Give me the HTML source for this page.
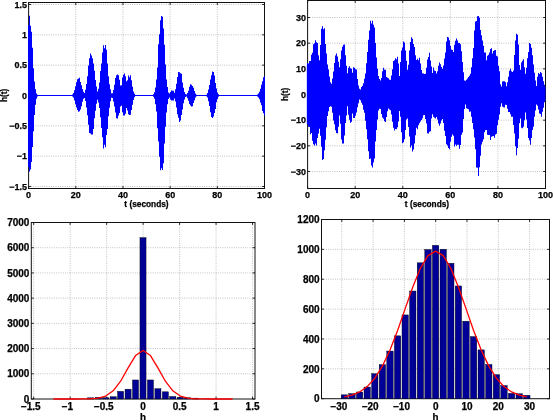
<!DOCTYPE html>
<html><head><meta charset="utf-8"><title>figure</title>
<style>html,body{margin:0;padding:0;background:#fff;overflow:hidden}svg{display:block;filter:blur(0.3px)}</style>
</head><body>
<svg width="553" height="420" viewBox="0 0 553 420" font-family='"Liberation Sans", Arial, Helvetica, sans-serif' font-weight="bold" font-size="10">
<style>text{stroke:#000;stroke-width:0.25px}</style>
<rect width="553" height="420" fill="#fff"/>
<path d="M75.78 2.5V188.5M122.96 2.5V188.5M170.14 2.5V188.5M217.32 2.5V188.5M28.6 186.5H264.5M28.6 156.17H264.5M28.6 125.83H264.5M28.6 95.5H264.5M28.6 65.17H264.5M28.6 34.83H264.5M28.6 4.5H264.5" stroke="#b4b4b4" stroke-width="0.9" stroke-dasharray="0.9 1.35" fill="none"/>
<path d="M28.6 188.5v-2.4M28.6 2.5v2.4M75.78 188.5v-2.4M75.78 2.5v2.4M122.96 188.5v-2.4M122.96 2.5v2.4M170.14 188.5v-2.4M170.14 2.5v2.4M217.32 188.5v-2.4M217.32 2.5v2.4M264.5 188.5v-2.4M264.5 2.5v2.4M28.6 186.5h2.4M264.5 186.5h-2.4M28.6 156.17h2.4M264.5 156.17h-2.4M28.6 125.83h2.4M264.5 125.83h-2.4M28.6 95.5h2.4M264.5 95.5h-2.4M28.6 65.17h2.4M264.5 65.17h-2.4M28.6 34.83h2.4M264.5 34.83h-2.4M28.6 4.5h2.4M264.5 4.5h-2.4" stroke="#111" stroke-width="0.9" fill="none"/>
<rect x="28.6" y="2.5" width="235.9" height="186" fill="none" stroke="#111" stroke-width="1"/>
<clipPath id="c1"><rect x="28.0" y="2.5" width="237.0" height="186.0"/></clipPath>
<path clip-path="url(#c1)" d="M28.00 24.90 L29.00 24.90 L29.00 15.85 L30.00 15.85 L30.00 25.77 L31.00 25.77 L31.00 31.75 L32.00 31.75 L32.00 47.70 L33.00 47.70 L33.00 68.20 L34.00 68.20 L34.00 81.54 L35.00 81.54 L35.00 89.23 L36.00 89.23 L36.00 93.41 L37.00 93.41 L37.00 94.82 L38.00 94.82 L38.00 94.90 L39.00 94.90 L39.00 94.90 L40.00 94.90 L40.00 94.90 L41.00 94.90 L41.00 94.90 L42.00 94.90 L42.00 94.90 L43.00 94.90 L43.00 94.90 L44.00 94.90 L44.00 94.90 L45.00 94.90 L45.00 94.90 L46.00 94.90 L46.00 94.90 L47.00 94.90 L47.00 94.90 L48.00 94.90 L48.00 94.90 L49.00 94.90 L49.00 94.90 L50.00 94.90 L50.00 94.90 L51.00 94.90 L51.00 94.90 L52.00 94.90 L52.00 94.90 L53.00 94.90 L53.00 94.90 L54.00 94.90 L54.00 94.90 L55.00 94.90 L55.00 94.90 L56.00 94.90 L56.00 94.90 L57.00 94.90 L57.00 94.90 L58.00 94.90 L58.00 94.90 L59.00 94.90 L59.00 94.90 L60.00 94.90 L60.00 94.90 L61.00 94.90 L61.00 94.90 L62.00 94.90 L62.00 94.90 L63.00 94.90 L63.00 94.90 L64.00 94.90 L64.00 94.90 L65.00 94.90 L65.00 94.90 L66.00 94.90 L66.00 94.90 L67.00 94.90 L67.00 94.90 L68.00 94.90 L68.00 94.90 L69.00 94.90 L69.00 94.90 L70.00 94.90 L70.00 94.90 L71.00 94.90 L71.00 94.90 L72.00 94.90 L72.00 94.45 L73.00 94.45 L73.00 92.93 L74.00 92.93 L74.00 90.24 L75.00 90.24 L75.00 86.22 L76.00 86.22 L76.00 82.16 L77.00 82.16 L77.00 79.23 L78.00 79.23 L78.00 78.57 L79.00 78.57 L79.00 77.87 L80.00 77.87 L80.00 82.00 L81.00 82.00 L81.00 85.29 L82.00 85.29 L82.00 89.02 L83.00 89.02 L83.00 91.85 L84.00 91.85 L84.00 92.93 L85.00 92.93 L85.00 89.67 L86.00 89.67 L86.00 84.12 L87.00 84.12 L87.00 76.29 L88.00 76.29 L88.00 65.50 L89.00 65.50 L89.00 58.31 L90.00 58.31 L90.00 53.49 L91.00 53.49 L91.00 55.50 L92.00 55.50 L92.00 58.24 L93.00 58.24 L93.00 63.59 L94.00 63.59 L94.00 70.83 L95.00 70.83 L95.00 79.96 L96.00 79.96 L96.00 86.38 L97.00 86.38 L97.00 91.42 L98.00 91.42 L98.00 88.79 L99.00 88.79 L99.00 82.51 L100.00 82.51 L100.00 71.05 L101.00 71.05 L101.00 63.55 L102.00 63.55 L102.00 52.62 L103.00 52.62 L103.00 45.35 L104.00 45.35 L104.00 48.27 L105.00 48.27 L105.00 44.95 L106.00 44.95 L106.00 49.69 L107.00 49.69 L107.00 63.60 L108.00 63.60 L108.00 76.32 L109.00 76.32 L109.00 84.33 L110.00 84.33 L110.00 89.21 L111.00 89.21 L111.00 93.17 L112.00 93.17 L112.00 93.18 L113.00 93.18 L113.00 90.05 L114.00 90.05 L114.00 84.68 L115.00 84.68 L115.00 78.01 L116.00 78.01 L116.00 75.20 L117.00 75.20 L117.00 74.42 L118.00 74.42 L118.00 75.17 L119.00 75.17 L119.00 79.85 L120.00 79.85 L120.00 85.58 L121.00 85.58 L121.00 85.17 L122.00 85.17 L122.00 77.49 L123.00 77.49 L123.00 74.75 L124.00 74.75 L124.00 73.57 L125.00 73.57 L125.00 76.30 L126.00 76.30 L126.00 81.35 L127.00 81.35 L127.00 80.23 L128.00 80.23 L128.00 75.52 L129.00 75.52 L129.00 77.37 L130.00 77.37 L130.00 75.29 L131.00 75.29 L131.00 80.29 L132.00 80.29 L132.00 86.71 L133.00 86.71 L133.00 91.54 L134.00 91.54 L134.00 93.84 L135.00 93.84 L135.00 94.90 L136.00 94.90 L136.00 94.90 L137.00 94.90 L137.00 94.90 L138.00 94.90 L138.00 94.90 L139.00 94.90 L139.00 94.90 L140.00 94.90 L140.00 94.90 L141.00 94.90 L141.00 94.90 L142.00 94.90 L142.00 94.90 L143.00 94.90 L143.00 94.90 L144.00 94.90 L144.00 94.90 L145.00 94.90 L145.00 94.90 L146.00 94.90 L146.00 94.90 L147.00 94.90 L147.00 94.90 L148.00 94.90 L148.00 94.90 L149.00 94.90 L149.00 94.90 L150.00 94.90 L150.00 94.90 L151.00 94.90 L151.00 94.90 L152.00 94.90 L152.00 94.90 L153.00 94.90 L153.00 94.28 L154.00 94.28 L154.00 92.18 L155.00 92.18 L155.00 87.54 L156.00 87.54 L156.00 79.53 L157.00 79.53 L157.00 67.52 L158.00 67.52 L158.00 44.17 L159.00 44.17 L159.00 34.18 L160.00 34.18 L160.00 20.29 L161.00 20.29 L161.00 16.11 L162.00 16.11 L162.00 16.86 L163.00 16.86 L163.00 28.42 L164.00 28.42 L164.00 44.79 L165.00 44.79 L165.00 64.49 L166.00 64.49 L166.00 79.52 L167.00 79.52 L167.00 86.88 L168.00 86.88 L168.00 92.45 L169.00 92.45 L169.00 93.44 L170.00 93.44 L170.00 92.02 L171.00 92.02 L171.00 90.40 L172.00 90.40 L172.00 90.79 L173.00 90.79 L173.00 90.81 L174.00 90.81 L174.00 92.65 L175.00 92.65 L175.00 89.18 L176.00 89.18 L176.00 83.67 L177.00 83.67 L177.00 76.93 L178.00 76.93 L178.00 72.05 L179.00 72.05 L179.00 72.30 L180.00 72.30 L180.00 73.23 L181.00 73.23 L181.00 73.64 L182.00 73.64 L182.00 82.39 L183.00 82.39 L183.00 87.78 L184.00 87.78 L184.00 91.92 L185.00 91.92 L185.00 94.10 L186.00 94.10 L186.00 94.50 L187.00 94.50 L187.00 93.01 L188.00 93.01 L188.00 90.66 L189.00 90.66 L189.00 86.76 L190.00 86.76 L190.00 84.32 L191.00 84.32 L191.00 84.84 L192.00 84.84 L192.00 85.94 L193.00 85.94 L193.00 87.73 L194.00 87.73 L194.00 91.06 L195.00 91.06 L195.00 93.51 L196.00 93.51 L196.00 94.70 L197.00 94.70 L197.00 94.90 L198.00 94.90 L198.00 94.90 L199.00 94.90 L199.00 94.90 L200.00 94.90 L200.00 94.90 L201.00 94.90 L201.00 94.90 L202.00 94.90 L202.00 94.90 L203.00 94.90 L203.00 94.90 L204.00 94.90 L204.00 94.90 L205.00 94.90 L205.00 94.90 L206.00 94.90 L206.00 94.68 L207.00 94.68 L207.00 93.11 L208.00 93.11 L208.00 89.62 L209.00 89.62 L209.00 85.07 L210.00 85.07 L210.00 79.47 L211.00 79.47 L211.00 75.19 L212.00 75.19 L212.00 71.53 L213.00 71.53 L213.00 72.03 L214.00 72.03 L214.00 75.43 L215.00 75.43 L215.00 83.12 L216.00 83.12 L216.00 88.45 L217.00 88.45 L217.00 92.40 L218.00 92.40 L218.00 94.21 L219.00 94.21 L219.00 94.90 L220.00 94.90 L220.00 94.90 L221.00 94.90 L221.00 94.90 L222.00 94.90 L222.00 94.90 L223.00 94.90 L223.00 94.90 L224.00 94.90 L224.00 94.90 L225.00 94.90 L225.00 94.90 L226.00 94.90 L226.00 94.90 L227.00 94.90 L227.00 94.90 L228.00 94.90 L228.00 94.90 L229.00 94.90 L229.00 94.90 L230.00 94.90 L230.00 94.90 L231.00 94.90 L231.00 94.90 L232.00 94.90 L232.00 94.90 L233.00 94.90 L233.00 94.90 L234.00 94.90 L234.00 94.90 L235.00 94.90 L235.00 94.90 L236.00 94.90 L236.00 94.90 L237.00 94.90 L237.00 94.90 L238.00 94.90 L238.00 94.90 L239.00 94.90 L239.00 94.90 L240.00 94.90 L240.00 94.90 L241.00 94.90 L241.00 94.90 L242.00 94.90 L242.00 94.90 L243.00 94.90 L243.00 94.90 L244.00 94.90 L244.00 94.90 L245.00 94.90 L245.00 94.90 L246.00 94.90 L246.00 94.90 L247.00 94.90 L247.00 94.90 L248.00 94.90 L248.00 94.90 L249.00 94.90 L249.00 94.90 L250.00 94.90 L250.00 94.90 L251.00 94.90 L251.00 94.90 L252.00 94.90 L252.00 94.90 L253.00 94.90 L253.00 94.90 L254.00 94.90 L254.00 94.90 L255.00 94.90 L255.00 94.90 L256.00 94.90 L256.00 94.90 L257.00 94.90 L257.00 94.53 L258.00 94.53 L258.00 93.59 L259.00 93.59 L259.00 91.86 L260.00 91.86 L260.00 88.64 L261.00 88.64 L261.00 84.65 L262.00 84.65 L262.00 81.14 L263.00 81.14 L263.00 77.33 L264.00 77.33 L264.00 76.40 L265.00 76.40 L265.00 115.50 L264.00 115.50 L264.00 113.19 L263.00 113.19 L263.00 110.94 L262.00 110.94 L262.00 105.37 L261.00 105.37 L261.00 102.60 L260.00 102.60 L260.00 99.19 L259.00 99.19 L259.00 97.62 L258.00 97.62 L258.00 96.47 L257.00 96.47 L257.00 96.10 L256.00 96.10 L256.00 96.10 L255.00 96.10 L255.00 96.10 L254.00 96.10 L254.00 96.10 L253.00 96.10 L253.00 96.10 L252.00 96.10 L252.00 96.10 L251.00 96.10 L251.00 96.10 L250.00 96.10 L250.00 96.10 L249.00 96.10 L249.00 96.10 L248.00 96.10 L248.00 96.10 L247.00 96.10 L247.00 96.10 L246.00 96.10 L246.00 96.10 L245.00 96.10 L245.00 96.10 L244.00 96.10 L244.00 96.10 L243.00 96.10 L243.00 96.10 L242.00 96.10 L242.00 96.10 L241.00 96.10 L241.00 96.10 L240.00 96.10 L240.00 96.10 L239.00 96.10 L239.00 96.10 L238.00 96.10 L238.00 96.10 L237.00 96.10 L237.00 96.10 L236.00 96.10 L236.00 96.10 L235.00 96.10 L235.00 96.10 L234.00 96.10 L234.00 96.10 L233.00 96.10 L233.00 96.10 L232.00 96.10 L232.00 96.10 L231.00 96.10 L231.00 96.10 L230.00 96.10 L230.00 96.10 L229.00 96.10 L229.00 96.10 L228.00 96.10 L228.00 96.10 L227.00 96.10 L227.00 96.10 L226.00 96.10 L226.00 96.10 L225.00 96.10 L225.00 96.10 L224.00 96.10 L224.00 96.10 L223.00 96.10 L223.00 96.10 L222.00 96.10 L222.00 96.10 L221.00 96.10 L221.00 96.10 L220.00 96.10 L220.00 96.10 L219.00 96.10 L219.00 96.78 L218.00 96.78 L218.00 98.97 L217.00 98.97 L217.00 102.30 L216.00 102.30 L216.00 108.93 L215.00 108.93 L215.00 113.11 L214.00 113.11 L214.00 116.48 L213.00 116.48 L213.00 117.89 L212.00 117.89 L212.00 116.89 L211.00 116.89 L211.00 112.34 L210.00 112.34 L210.00 105.98 L209.00 105.98 L209.00 101.35 L208.00 101.35 L208.00 97.62 L207.00 97.62 L207.00 96.31 L206.00 96.31 L206.00 96.10 L205.00 96.10 L205.00 96.10 L204.00 96.10 L204.00 96.10 L203.00 96.10 L203.00 96.10 L202.00 96.10 L202.00 96.10 L201.00 96.10 L201.00 96.10 L200.00 96.10 L200.00 96.10 L199.00 96.10 L199.00 96.10 L198.00 96.10 L198.00 96.10 L197.00 96.10 L197.00 96.30 L196.00 96.30 L196.00 97.54 L195.00 97.54 L195.00 100.23 L194.00 100.23 L194.00 102.98 L193.00 102.98 L193.00 106.35 L192.00 106.35 L192.00 106.44 L191.00 106.44 L191.00 105.43 L190.00 105.43 L190.00 104.10 L189.00 104.10 L189.00 100.69 L188.00 100.69 L188.00 98.13 L187.00 98.13 L187.00 96.50 L186.00 96.50 L186.00 96.89 L185.00 96.89 L185.00 99.38 L184.00 99.38 L184.00 103.37 L183.00 103.37 L183.00 109.38 L182.00 109.38 L182.00 115.06 L181.00 115.06 L181.00 120.43 L180.00 120.43 L180.00 121.88 L179.00 121.88 L179.00 117.63 L178.00 117.63 L178.00 114.30 L177.00 114.30 L177.00 107.51 L176.00 107.51 L176.00 101.42 L175.00 101.42 L175.00 98.60 L174.00 98.60 L174.00 100.41 L173.00 100.41 L173.00 100.59 L172.00 100.59 L172.00 100.53 L171.00 100.53 L171.00 99.61 L170.00 99.61 L170.00 97.61 L169.00 97.61 L169.00 98.94 L168.00 98.94 L168.00 104.20 L167.00 104.20 L167.00 112.57 L166.00 112.57 L166.00 126.66 L165.00 126.66 L165.00 143.56 L164.00 143.56 L164.00 163.37 L163.00 163.37 L163.00 169.97 L162.00 169.97 L162.00 168.13 L161.00 168.13 L161.00 170.24 L160.00 170.24 L160.00 156.87 L159.00 156.87 L159.00 141.46 L158.00 141.46 L158.00 128.15 L157.00 128.15 L157.00 111.57 L156.00 111.57 L156.00 104.22 L155.00 104.22 L155.00 98.76 L154.00 98.76 L154.00 96.74 L153.00 96.74 L153.00 96.10 L152.00 96.10 L152.00 96.10 L151.00 96.10 L151.00 96.10 L150.00 96.10 L150.00 96.10 L149.00 96.10 L149.00 96.10 L148.00 96.10 L148.00 96.10 L147.00 96.10 L147.00 96.10 L146.00 96.10 L146.00 96.10 L145.00 96.10 L145.00 96.10 L144.00 96.10 L144.00 96.10 L143.00 96.10 L143.00 96.10 L142.00 96.10 L142.00 96.10 L141.00 96.10 L141.00 96.10 L140.00 96.10 L140.00 96.10 L139.00 96.10 L139.00 96.10 L138.00 96.10 L138.00 96.10 L137.00 96.10 L137.00 96.10 L136.00 96.10 L136.00 96.10 L135.00 96.10 L135.00 97.17 L134.00 97.17 L134.00 99.97 L133.00 99.97 L133.00 104.75 L132.00 104.75 L132.00 109.94 L131.00 109.94 L131.00 114.83 L130.00 114.83 L130.00 115.11 L129.00 115.11 L129.00 114.33 L128.00 114.33 L128.00 110.49 L127.00 110.49 L127.00 108.12 L126.00 108.12 L126.00 113.68 L125.00 113.68 L125.00 115.58 L124.00 115.58 L124.00 115.42 L123.00 115.42 L123.00 112.28 L122.00 112.28 L122.00 105.86 L121.00 105.86 L121.00 106.55 L120.00 106.55 L120.00 113.04 L119.00 113.04 L119.00 115.50 L118.00 115.50 L118.00 118.60 L117.00 118.60 L117.00 118.14 L116.00 118.14 L116.00 112.62 L115.00 112.62 L115.00 106.54 L114.00 106.54 L114.00 101.62 L113.00 101.62 L113.00 98.10 L112.00 98.10 L112.00 97.83 L111.00 97.83 L111.00 101.35 L110.00 101.35 L110.00 107.72 L109.00 107.72 L109.00 116.32 L108.00 116.32 L108.00 128.89 L107.00 128.89 L107.00 134.89 L106.00 134.89 L106.00 147.33 L105.00 147.33 L105.00 144.68 L104.00 144.68 L104.00 148.47 L103.00 148.47 L103.00 137.14 L102.00 137.14 L102.00 127.89 L101.00 127.89 L101.00 117.13 L100.00 117.13 L100.00 108.06 L99.00 108.06 L99.00 102.44 L98.00 102.44 L98.00 99.81 L97.00 99.81 L97.00 103.67 L96.00 103.67 L96.00 110.83 L95.00 110.83 L95.00 118.13 L94.00 118.13 L94.00 128.90 L93.00 128.90 L93.00 134.58 L92.00 134.58 L92.00 134.38 L91.00 134.38 L91.00 133.56 L90.00 133.56 L90.00 132.92 L89.00 132.92 L89.00 124.87 L88.00 124.87 L88.00 115.19 L87.00 115.19 L87.00 107.52 L86.00 107.52 L86.00 100.92 L85.00 100.92 L85.00 98.06 L84.00 98.06 L84.00 98.70 L83.00 98.70 L83.00 101.68 L82.00 101.68 L82.00 106.16 L81.00 106.16 L81.00 109.58 L80.00 109.58 L80.00 111.31 L79.00 111.31 L79.00 111.82 L78.00 111.82 L78.00 110.08 L77.00 110.08 L77.00 107.49 L76.00 107.49 L76.00 104.15 L75.00 104.15 L75.00 100.58 L74.00 100.58 L74.00 97.83 L73.00 97.83 L73.00 96.51 L72.00 96.51 L72.00 96.10 L71.00 96.10 L71.00 96.10 L70.00 96.10 L70.00 96.10 L69.00 96.10 L69.00 96.10 L68.00 96.10 L68.00 96.10 L67.00 96.10 L67.00 96.10 L66.00 96.10 L66.00 96.10 L65.00 96.10 L65.00 96.10 L64.00 96.10 L64.00 96.10 L63.00 96.10 L63.00 96.10 L62.00 96.10 L62.00 96.10 L61.00 96.10 L61.00 96.10 L60.00 96.10 L60.00 96.10 L59.00 96.10 L59.00 96.10 L58.00 96.10 L58.00 96.10 L57.00 96.10 L57.00 96.10 L56.00 96.10 L56.00 96.10 L55.00 96.10 L55.00 96.10 L54.00 96.10 L54.00 96.10 L53.00 96.10 L53.00 96.10 L52.00 96.10 L52.00 96.10 L51.00 96.10 L51.00 96.10 L50.00 96.10 L50.00 96.10 L49.00 96.10 L49.00 96.10 L48.00 96.10 L48.00 96.10 L47.00 96.10 L47.00 96.10 L46.00 96.10 L46.00 96.10 L45.00 96.10 L45.00 96.10 L44.00 96.10 L44.00 96.10 L43.00 96.10 L43.00 96.10 L42.00 96.10 L42.00 96.10 L41.00 96.10 L41.00 96.10 L40.00 96.10 L40.00 96.10 L39.00 96.10 L39.00 96.10 L38.00 96.10 L38.00 96.49 L37.00 96.49 L37.00 98.69 L36.00 98.69 L36.00 104.63 L35.00 104.63 L35.00 114.90 L34.00 114.90 L34.00 131.29 L33.00 131.29 L33.00 147.08 L32.00 147.08 L32.00 161.99 L31.00 161.99 L31.00 169.55 L30.00 169.55 L30.00 171.41 L29.00 171.41 L29.00 167.10 L28.00 167.10Z" fill="#0000ff"/>
<g font-size="9">
<text x="28.6" y="198" text-anchor="middle">0</text>
<text x="75.78" y="198" text-anchor="middle">20</text>
<text x="122.96" y="198" text-anchor="middle">40</text>
<text x="170.14" y="198" text-anchor="middle">60</text>
<text x="217.32" y="198" text-anchor="middle">80</text>
<text x="264.5" y="198" text-anchor="middle">100</text>
<text x="27" y="189.7" text-anchor="end">&#8722;1.5</text>
<text x="27" y="159.37" text-anchor="end">&#8722;1</text>
<text x="27" y="129.03" text-anchor="end">&#8722;0.5</text>
<text x="27" y="98.7" text-anchor="end">0</text>
<text x="27" y="68.37" text-anchor="end">0.5</text>
<text x="27" y="38.03" text-anchor="end">1</text>
<text x="27" y="7.7" text-anchor="end">1.5</text>
</g>
<path d="M355.18 0.5V188.5M402.76 0.5V188.5M450.34 0.5V188.5M497.92 0.5V188.5M307.6 171.5H545.5M307.6 145.83H545.5M307.6 120.17H545.5M307.6 94.5H545.5M307.6 68.83H545.5M307.6 43.17H545.5M307.6 17.5H545.5" stroke="#b4b4b4" stroke-width="0.9" stroke-dasharray="0.9 1.35" fill="none"/>
<path d="M307.6 188.5v-2.4M307.6 0.5v2.4M355.18 188.5v-2.4M355.18 0.5v2.4M402.76 188.5v-2.4M402.76 0.5v2.4M450.34 188.5v-2.4M450.34 0.5v2.4M497.92 188.5v-2.4M497.92 0.5v2.4M545.5 188.5v-2.4M545.5 0.5v2.4M307.6 171.5h2.4M545.5 171.5h-2.4M307.6 145.83h2.4M545.5 145.83h-2.4M307.6 120.17h2.4M545.5 120.17h-2.4M307.6 94.5h2.4M545.5 94.5h-2.4M307.6 68.83h2.4M545.5 68.83h-2.4M307.6 43.17h2.4M545.5 43.17h-2.4M307.6 17.5h2.4M545.5 17.5h-2.4" stroke="#111" stroke-width="0.9" fill="none"/>
<rect x="307.6" y="0.5" width="237.9" height="188" fill="none" stroke="#111" stroke-width="1"/>
<clipPath id="c2"><rect x="306.6" y="0.5" width="238.89999999999998" height="188.0"/></clipPath>
<path clip-path="url(#c2)" d="M306.60 64.74 L307.00 64.74 L307.00 62.95 L308.00 62.95 L308.00 63.56 L309.00 63.56 L309.00 60.93 L310.00 60.93 L310.00 60.95 L311.00 60.95 L311.00 54.85 L312.00 54.85 L312.00 52.76 L313.00 52.76 L313.00 44.13 L314.00 44.13 L314.00 43.27 L315.00 43.27 L315.00 40.28 L316.00 40.28 L316.00 42.15 L317.00 42.15 L317.00 42.95 L318.00 42.95 L318.00 55.19 L319.00 55.19 L319.00 60.31 L320.00 60.31 L320.00 44.97 L321.00 44.97 L321.00 28.74 L322.00 28.74 L322.00 26.25 L323.00 26.25 L323.00 29.16 L324.00 29.16 L324.00 28.31 L325.00 28.31 L325.00 43.98 L326.00 43.98 L326.00 53.46 L327.00 53.46 L327.00 64.47 L328.00 64.47 L328.00 69.61 L329.00 69.61 L329.00 76.38 L330.00 76.38 L330.00 82.24 L331.00 82.24 L331.00 83.70 L332.00 83.70 L332.00 78.54 L333.00 78.54 L333.00 71.52 L334.00 71.52 L334.00 63.05 L335.00 63.05 L335.00 55.53 L336.00 55.53 L336.00 53.56 L337.00 53.56 L337.00 56.55 L338.00 56.55 L338.00 61.85 L339.00 61.85 L339.00 67.29 L340.00 67.29 L340.00 59.33 L341.00 59.33 L341.00 50.47 L342.00 50.47 L342.00 46.80 L343.00 46.80 L343.00 44.70 L344.00 44.70 L344.00 44.55 L345.00 44.55 L345.00 55.17 L346.00 55.17 L346.00 65.84 L347.00 65.84 L347.00 73.18 L348.00 73.18 L348.00 67.74 L349.00 67.74 L349.00 66.37 L350.00 66.37 L350.00 68.13 L351.00 68.13 L351.00 68.74 L352.00 68.74 L352.00 72.77 L353.00 72.77 L353.00 67.16 L354.00 67.16 L354.00 67.76 L355.00 67.76 L355.00 69.28 L356.00 69.28 L356.00 69.41 L357.00 69.41 L357.00 79.06 L358.00 79.06 L358.00 85.59 L359.00 85.59 L359.00 88.84 L360.00 88.84 L360.00 89.54 L361.00 89.54 L361.00 87.02 L362.00 87.02 L362.00 85.66 L363.00 85.66 L363.00 83.28 L364.00 83.28 L364.00 78.82 L365.00 78.82 L365.00 73.58 L366.00 73.58 L366.00 63.19 L367.00 63.19 L367.00 52.02 L368.00 52.02 L368.00 39.76 L369.00 39.76 L369.00 30.61 L370.00 30.61 L370.00 20.72 L371.00 20.72 L371.00 23.53 L372.00 23.53 L372.00 20.80 L373.00 20.80 L373.00 24.85 L374.00 24.85 L374.00 27.42 L375.00 27.42 L375.00 43.01 L376.00 43.01 L376.00 57.54 L377.00 57.54 L377.00 68.78 L378.00 68.78 L378.00 76.03 L379.00 76.03 L379.00 79.01 L380.00 79.01 L380.00 80.48 L381.00 80.48 L381.00 77.94 L382.00 77.94 L382.00 71.21 L383.00 71.21 L383.00 67.86 L384.00 67.86 L384.00 69.80 L385.00 69.80 L385.00 69.86 L386.00 69.86 L386.00 76.98 L387.00 76.98 L387.00 77.69 L388.00 77.69 L388.00 78.28 L389.00 78.28 L389.00 79.65 L390.00 79.65 L390.00 79.83 L391.00 79.83 L391.00 75.56 L392.00 75.56 L392.00 69.25 L393.00 69.25 L393.00 61.04 L394.00 61.04 L394.00 60.25 L395.00 60.25 L395.00 58.37 L396.00 58.37 L396.00 59.21 L397.00 59.21 L397.00 56.81 L398.00 56.81 L398.00 63.62 L399.00 63.62 L399.00 76.06 L400.00 76.06 L400.00 61.93 L401.00 61.93 L401.00 50.60 L402.00 50.60 L402.00 47.53 L403.00 47.53 L403.00 41.42 L404.00 41.42 L404.00 42.52 L405.00 42.52 L405.00 50.38 L406.00 50.38 L406.00 60.86 L407.00 60.86 L407.00 69.70 L408.00 69.70 L408.00 64.73 L409.00 64.73 L409.00 50.51 L410.00 50.51 L410.00 41.99 L411.00 41.99 L411.00 37.19 L412.00 37.19 L412.00 38.84 L413.00 38.84 L413.00 44.07 L414.00 44.07 L414.00 47.11 L415.00 47.11 L415.00 55.30 L416.00 55.30 L416.00 59.89 L417.00 59.89 L417.00 58.79 L418.00 58.79 L418.00 60.14 L419.00 60.14 L419.00 57.87 L420.00 57.87 L420.00 63.40 L421.00 63.40 L421.00 69.95 L422.00 69.95 L422.00 73.17 L423.00 73.17 L423.00 73.57 L424.00 73.57 L424.00 73.88 L425.00 73.88 L425.00 73.81 L426.00 73.81 L426.00 67.86 L427.00 67.86 L427.00 59.43 L428.00 59.43 L428.00 56.89 L429.00 56.89 L429.00 52.75 L430.00 52.75 L430.00 60.45 L431.00 60.45 L431.00 66.53 L432.00 66.53 L432.00 72.94 L433.00 72.94 L433.00 67.51 L434.00 67.51 L434.00 70.49 L435.00 70.49 L435.00 71.02 L436.00 71.02 L436.00 73.59 L437.00 73.59 L437.00 71.14 L438.00 71.14 L438.00 65.72 L439.00 65.72 L439.00 62.53 L440.00 62.53 L440.00 64.30 L441.00 64.30 L441.00 67.07 L442.00 67.07 L442.00 68.66 L443.00 68.66 L443.00 65.60 L444.00 65.60 L444.00 58.45 L445.00 58.45 L445.00 52.39 L446.00 52.39 L446.00 41.53 L447.00 41.53 L447.00 36.95 L448.00 36.95 L448.00 37.54 L449.00 37.54 L449.00 40.26 L450.00 40.26 L450.00 45.72 L451.00 45.72 L451.00 49.60 L452.00 49.60 L452.00 50.12 L453.00 50.12 L453.00 52.08 L454.00 52.08 L454.00 44.65 L455.00 44.65 L455.00 40.85 L456.00 40.85 L456.00 38.41 L457.00 38.41 L457.00 40.62 L458.00 40.62 L458.00 42.98 L459.00 42.98 L459.00 43.06 L460.00 43.06 L460.00 44.34 L461.00 44.34 L461.00 51.21 L462.00 51.21 L462.00 62.08 L463.00 62.08 L463.00 72.20 L464.00 72.20 L464.00 80.52 L465.00 80.52 L465.00 80.68 L466.00 80.68 L466.00 79.86 L467.00 79.86 L467.00 78.54 L468.00 78.54 L468.00 77.07 L469.00 77.07 L469.00 75.65 L470.00 75.65 L470.00 73.73 L471.00 73.73 L471.00 67.23 L472.00 67.23 L472.00 58.28 L473.00 58.28 L473.00 48.03 L474.00 48.03 L474.00 30.48 L475.00 30.48 L475.00 21.55 L476.00 21.55 L476.00 21.03 L477.00 21.03 L477.00 16.28 L478.00 16.28 L478.00 16.07 L479.00 16.07 L479.00 17.79 L480.00 17.79 L480.00 29.94 L481.00 29.94 L481.00 35.27 L482.00 35.27 L482.00 40.45 L483.00 40.45 L483.00 45.68 L484.00 45.68 L484.00 52.46 L485.00 52.46 L485.00 52.40 L486.00 52.40 L486.00 60.17 L487.00 60.17 L487.00 55.63 L488.00 55.63 L488.00 54.68 L489.00 54.68 L489.00 52.41 L490.00 52.41 L490.00 49.10 L491.00 49.10 L491.00 48.33 L492.00 48.33 L492.00 53.59 L493.00 53.59 L493.00 51.11 L494.00 51.11 L494.00 50.35 L495.00 50.35 L495.00 50.09 L496.00 50.09 L496.00 55.78 L497.00 55.78 L497.00 56.55 L498.00 56.55 L498.00 65.66 L499.00 65.66 L499.00 71.30 L500.00 71.30 L500.00 84.33 L501.00 84.33 L501.00 86.49 L502.00 86.49 L502.00 81.54 L503.00 81.54 L503.00 81.33 L504.00 81.33 L504.00 81.34 L505.00 81.34 L505.00 82.14 L506.00 82.14 L506.00 86.30 L507.00 86.30 L507.00 82.21 L508.00 82.21 L508.00 76.84 L509.00 76.84 L509.00 70.71 L510.00 70.71 L510.00 68.82 L511.00 68.82 L511.00 71.14 L512.00 71.14 L512.00 72.00 L513.00 72.00 L513.00 70.43 L514.00 70.43 L514.00 55.03 L515.00 55.03 L515.00 40.62 L516.00 40.62 L516.00 33.82 L517.00 33.82 L517.00 34.67 L518.00 34.67 L518.00 44.44 L519.00 44.44 L519.00 64.89 L520.00 64.89 L520.00 69.69 L521.00 69.69 L521.00 62.50 L522.00 62.50 L522.00 60.74 L523.00 60.74 L523.00 59.17 L524.00 59.17 L524.00 67.30 L525.00 67.30 L525.00 73.85 L526.00 73.85 L526.00 67.82 L527.00 67.82 L527.00 58.31 L528.00 58.31 L528.00 52.01 L529.00 52.01 L529.00 43.01 L530.00 43.01 L530.00 44.05 L531.00 44.05 L531.00 47.71 L532.00 47.71 L532.00 55.30 L533.00 55.30 L533.00 64.42 L534.00 64.42 L534.00 72.76 L535.00 72.76 L535.00 80.60 L536.00 80.60 L536.00 85.92 L537.00 85.92 L537.00 76.87 L538.00 76.87 L538.00 73.05 L539.00 73.05 L539.00 74.02 L540.00 74.02 L540.00 71.94 L541.00 71.94 L541.00 73.08 L542.00 73.08 L542.00 76.86 L543.00 76.86 L543.00 81.27 L544.00 81.27 L544.00 84.76 L545.00 84.76 L545.00 86.89 L546.00 86.89 L546.00 100.79 L545.00 100.79 L545.00 102.34 L544.00 102.34 L544.00 107.87 L543.00 107.87 L543.00 111.70 L542.00 111.70 L542.00 116.84 L541.00 116.84 L541.00 114.06 L540.00 114.06 L540.00 113.54 L539.00 113.54 L539.00 109.57 L538.00 109.57 L538.00 105.80 L537.00 105.80 L537.00 104.55 L536.00 104.55 L536.00 110.59 L535.00 110.59 L535.00 116.72 L534.00 116.72 L534.00 126.81 L533.00 126.81 L533.00 129.92 L532.00 129.92 L532.00 138.08 L531.00 138.08 L531.00 144.63 L530.00 144.63 L530.00 140.48 L529.00 140.48 L529.00 138.01 L528.00 138.01 L528.00 127.89 L527.00 127.89 L527.00 119.62 L526.00 119.62 L526.00 112.51 L525.00 112.51 L525.00 120.27 L524.00 120.27 L524.00 126.86 L523.00 126.86 L523.00 128.17 L522.00 128.17 L522.00 127.87 L521.00 127.87 L521.00 118.52 L520.00 118.52 L520.00 123.29 L519.00 123.29 L519.00 138.67 L518.00 138.67 L518.00 147.98 L517.00 147.98 L517.00 155.28 L516.00 155.28 L516.00 146.22 L515.00 146.22 L515.00 133.47 L514.00 133.47 L514.00 124.99 L513.00 124.99 L513.00 116.73 L512.00 116.73 L512.00 116.78 L511.00 116.78 L511.00 114.20 L510.00 114.20 L510.00 112.12 L509.00 112.12 L509.00 111.97 L508.00 111.97 L508.00 108.84 L507.00 108.84 L507.00 105.05 L506.00 105.05 L506.00 104.80 L505.00 104.80 L505.00 107.40 L504.00 107.40 L504.00 107.25 L503.00 107.25 L503.00 106.50 L502.00 106.50 L502.00 103.37 L501.00 103.37 L501.00 106.68 L500.00 106.68 L500.00 114.38 L499.00 114.38 L499.00 119.64 L498.00 119.64 L498.00 125.25 L497.00 125.25 L497.00 133.63 L496.00 133.63 L496.00 134.54 L495.00 134.54 L495.00 137.71 L494.00 137.71 L494.00 136.04 L493.00 136.04 L493.00 136.20 L492.00 136.20 L492.00 136.75 L491.00 136.75 L491.00 139.91 L490.00 139.91 L490.00 135.02 L489.00 135.02 L489.00 134.88 L488.00 134.88 L488.00 134.63 L487.00 134.63 L487.00 130.02 L486.00 130.02 L486.00 130.15 L485.00 130.15 L485.00 132.13 L484.00 132.13 L484.00 139.13 L483.00 139.13 L483.00 141.76 L482.00 141.76 L482.00 144.43 L481.00 144.43 L481.00 155.85 L480.00 155.85 L480.00 167.33 L479.00 167.33 L479.00 175.90 L478.00 175.90 L478.00 167.77 L477.00 167.77 L477.00 167.51 L476.00 167.51 L476.00 149.18 L475.00 149.18 L475.00 137.41 L474.00 137.41 L474.00 129.35 L473.00 129.35 L473.00 123.07 L472.00 123.07 L472.00 116.78 L471.00 116.78 L471.00 111.40 L470.00 111.40 L470.00 111.76 L469.00 111.76 L469.00 109.17 L468.00 109.17 L468.00 108.80 L467.00 108.80 L467.00 108.26 L466.00 108.26 L466.00 104.55 L465.00 104.55 L465.00 108.92 L464.00 108.92 L464.00 118.96 L463.00 118.96 L463.00 132.55 L462.00 132.55 L462.00 134.70 L461.00 134.70 L461.00 144.97 L460.00 144.97 L460.00 148.75 L459.00 148.75 L459.00 144.69 L458.00 144.69 L458.00 144.69 L457.00 144.69 L457.00 145.87 L456.00 145.87 L456.00 144.44 L455.00 144.44 L455.00 146.46 L454.00 146.46 L454.00 135.74 L453.00 135.74 L453.00 134.55 L452.00 134.55 L452.00 136.71 L451.00 136.71 L451.00 141.71 L450.00 141.71 L450.00 149.36 L449.00 149.36 L449.00 147.89 L448.00 147.89 L448.00 145.58 L447.00 145.58 L447.00 144.15 L446.00 144.15 L446.00 136.00 L445.00 136.00 L445.00 130.72 L444.00 130.72 L444.00 122.88 L443.00 122.88 L443.00 119.09 L442.00 119.09 L442.00 120.55 L441.00 120.55 L441.00 123.62 L440.00 123.62 L440.00 125.84 L439.00 125.84 L439.00 123.53 L438.00 123.53 L438.00 119.59 L437.00 119.59 L437.00 117.12 L436.00 117.12 L436.00 118.50 L435.00 118.50 L435.00 117.68 L434.00 117.68 L434.00 116.81 L433.00 116.81 L433.00 114.35 L432.00 114.35 L432.00 118.52 L431.00 118.52 L431.00 131.34 L430.00 131.34 L430.00 131.77 L429.00 131.77 L429.00 133.50 L428.00 133.50 L428.00 133.24 L427.00 133.24 L427.00 123.54 L426.00 123.54 L426.00 118.95 L425.00 118.95 L425.00 115.11 L424.00 115.11 L424.00 115.31 L423.00 115.31 L423.00 118.30 L422.00 118.30 L422.00 120.11 L421.00 120.11 L421.00 121.58 L420.00 121.58 L420.00 123.34 L419.00 123.34 L419.00 125.34 L418.00 125.34 L418.00 129.34 L417.00 129.34 L417.00 127.80 L416.00 127.80 L416.00 135.29 L415.00 135.29 L415.00 143.50 L414.00 143.50 L414.00 149.61 L413.00 149.61 L413.00 151.49 L412.00 151.49 L412.00 145.59 L411.00 145.59 L411.00 147.39 L410.00 147.39 L410.00 136.61 L409.00 136.61 L409.00 127.05 L408.00 127.05 L408.00 118.49 L407.00 118.49 L407.00 119.40 L406.00 119.40 L406.00 130.00 L405.00 130.00 L405.00 139.14 L404.00 139.14 L404.00 142.35 L403.00 142.35 L403.00 143.37 L402.00 143.37 L402.00 132.35 L401.00 132.35 L401.00 116.83 L400.00 116.83 L400.00 111.00 L399.00 111.00 L399.00 121.47 L398.00 121.47 L398.00 127.30 L397.00 127.30 L397.00 129.33 L396.00 129.33 L396.00 129.00 L395.00 129.00 L395.00 130.48 L394.00 130.48 L394.00 127.87 L393.00 127.87 L393.00 121.69 L392.00 121.69 L392.00 114.49 L391.00 114.49 L391.00 110.32 L390.00 110.32 L390.00 109.48 L389.00 109.48 L389.00 108.56 L388.00 108.56 L388.00 111.14 L387.00 111.14 L387.00 117.01 L386.00 117.01 L386.00 122.01 L385.00 122.01 L385.00 121.34 L384.00 121.34 L384.00 118.83 L383.00 118.83 L383.00 117.48 L382.00 117.48 L382.00 114.05 L381.00 114.05 L381.00 109.11 L380.00 109.11 L380.00 108.72 L379.00 108.72 L379.00 110.52 L378.00 110.52 L378.00 119.42 L377.00 119.42 L377.00 130.11 L376.00 130.11 L376.00 141.55 L375.00 141.55 L375.00 158.46 L374.00 158.46 L374.00 162.44 L373.00 162.44 L373.00 167.49 L372.00 167.49 L372.00 165.50 L371.00 165.50 L371.00 158.48 L370.00 158.48 L370.00 159.10 L369.00 159.10 L369.00 151.36 L368.00 151.36 L368.00 139.27 L367.00 139.27 L367.00 129.24 L366.00 129.24 L366.00 120.82 L365.00 120.82 L365.00 112.83 L364.00 112.83 L364.00 109.82 L363.00 109.82 L363.00 104.81 L362.00 104.81 L362.00 102.75 L361.00 102.75 L361.00 100.16 L360.00 100.16 L360.00 99.49 L359.00 99.49 L359.00 103.29 L358.00 103.29 L358.00 107.30 L357.00 107.30 L357.00 112.56 L356.00 112.56 L356.00 115.74 L355.00 115.74 L355.00 117.88 L354.00 117.88 L354.00 117.99 L353.00 117.99 L353.00 113.53 L352.00 113.53 L352.00 121.79 L351.00 121.79 L351.00 122.84 L350.00 122.84 L350.00 119.85 L349.00 119.85 L349.00 114.68 L348.00 114.68 L348.00 106.21 L347.00 106.21 L347.00 115.56 L346.00 115.56 L346.00 122.96 L345.00 122.96 L345.00 135.56 L344.00 135.56 L344.00 143.52 L343.00 143.52 L343.00 143.55 L342.00 143.55 L342.00 139.50 L341.00 139.50 L341.00 123.67 L340.00 123.67 L340.00 115.60 L339.00 115.60 L339.00 126.70 L338.00 126.70 L338.00 133.51 L337.00 133.51 L337.00 133.00 L336.00 133.00 L336.00 130.37 L335.00 130.37 L335.00 124.14 L334.00 124.14 L334.00 120.60 L333.00 120.60 L333.00 112.71 L332.00 112.71 L332.00 106.69 L331.00 106.69 L331.00 106.24 L330.00 106.24 L330.00 107.04 L329.00 107.04 L329.00 111.21 L328.00 111.21 L328.00 115.98 L327.00 115.98 L327.00 127.17 L326.00 127.17 L326.00 139.76 L325.00 139.76 L325.00 150.27 L324.00 150.27 L324.00 158.99 L323.00 158.99 L323.00 159.90 L322.00 159.90 L322.00 146.66 L321.00 146.66 L321.00 135.77 L320.00 135.77 L320.00 128.79 L319.00 128.79 L319.00 133.42 L318.00 133.42 L318.00 138.04 L317.00 138.04 L317.00 145.49 L316.00 145.49 L316.00 143.58 L315.00 143.58 L315.00 145.39 L314.00 145.39 L314.00 144.36 L313.00 144.36 L313.00 140.64 L312.00 140.64 L312.00 133.06 L311.00 133.06 L311.00 134.25 L310.00 134.25 L310.00 126.98 L309.00 126.98 L309.00 126.71 L308.00 126.71 L308.00 124.34 L307.00 124.34 L307.00 124.56 L306.60 124.56Z" fill="#0000ff"/>
<g font-size="9">
<text x="307.6" y="198" text-anchor="middle">0</text>
<text x="355.18" y="198" text-anchor="middle">20</text>
<text x="402.76" y="198" text-anchor="middle">40</text>
<text x="450.34" y="198" text-anchor="middle">60</text>
<text x="497.92" y="198" text-anchor="middle">80</text>
<text x="545.5" y="198" text-anchor="middle">100</text>
<text x="306" y="174.7" text-anchor="end">&#8722;30</text>
<text x="306" y="149.03" text-anchor="end">&#8722;20</text>
<text x="306" y="123.37" text-anchor="end">&#8722;10</text>
<text x="306" y="97.7" text-anchor="end">0</text>
<text x="306" y="72.03" text-anchor="end">10</text>
<text x="306" y="46.37" text-anchor="end">20</text>
<text x="306" y="20.7" text-anchor="end">30</text>
</g>
<path d="M33.7 222.5V399M70.18 222.5V399M106.65 222.5V399M143.12 222.5V399M179.6 222.5V399M216.07 222.5V399M252.55 222.5V399M31.3 373.79H255M31.3 348.57H255M31.3 323.36H255M31.3 298.14H255M31.3 272.93H255M31.3 247.71H255" stroke="#b4b4b4" stroke-width="0.9" stroke-dasharray="0.9 1.35" fill="none"/>
<path d="M33.7 399v-2.4M33.7 222.5v2.4M70.18 399v-2.4M70.18 222.5v2.4M106.65 399v-2.4M106.65 222.5v2.4M143.12 399v-2.4M143.12 222.5v2.4M179.6 399v-2.4M179.6 222.5v2.4M216.07 399v-2.4M216.07 222.5v2.4M252.55 399v-2.4M252.55 222.5v2.4M31.3 399h2.4M255 399h-2.4M31.3 373.79h2.4M255 373.79h-2.4M31.3 348.57h2.4M255 348.57h-2.4M31.3 323.36h2.4M255 323.36h-2.4M31.3 298.14h2.4M255 298.14h-2.4M31.3 272.93h2.4M255 272.93h-2.4M31.3 247.71h2.4M255 247.71h-2.4M31.3 222.5h2.4M255 222.5h-2.4" stroke="#111" stroke-width="0.9" fill="none"/>
<rect x="31.3" y="222.5" width="223.7" height="176.5" fill="none" stroke="#111" stroke-width="1"/>
<rect x="87.73" y="397.81" width="6.1" height="1.19" fill="#000096" stroke="#000" stroke-width="0.4"/>
<rect x="95.19" y="397.24" width="6.1" height="1.76" fill="#000096" stroke="#000" stroke-width="0.4"/>
<rect x="102.65" y="397.61" width="6.1" height="1.39" fill="#000096" stroke="#000" stroke-width="0.4"/>
<rect x="110.11" y="396.73" width="6.1" height="2.27" fill="#000096" stroke="#000" stroke-width="0.4"/>
<rect x="117.57" y="391.31" width="6.1" height="7.69" fill="#000096" stroke="#000" stroke-width="0.4"/>
<rect x="125.03" y="389.17" width="6.1" height="9.83" fill="#000096" stroke="#000" stroke-width="0.4"/>
<rect x="132.49" y="379.96" width="6.1" height="19.04" fill="#000096" stroke="#000" stroke-width="0.4"/>
<rect x="139.95" y="237.63" width="6.1" height="161.37" fill="#000096" stroke="#000" stroke-width="0.4"/>
<rect x="147.41" y="379.96" width="6.1" height="19.04" fill="#000096" stroke="#000" stroke-width="0.4"/>
<rect x="154.87" y="388.66" width="6.1" height="10.34" fill="#000096" stroke="#000" stroke-width="0.4"/>
<rect x="162.33" y="391.81" width="6.1" height="7.19" fill="#000096" stroke="#000" stroke-width="0.4"/>
<rect x="169.79" y="396.5" width="6.1" height="2.5" fill="#000096" stroke="#000" stroke-width="0.4"/>
<rect x="177.25" y="397.24" width="6.1" height="1.76" fill="#000096" stroke="#000" stroke-width="0.4"/>
<rect x="184.71" y="397.81" width="6.1" height="1.19" fill="#000096" stroke="#000" stroke-width="0.4"/>
<rect x="192.17" y="398.12" width="6.1" height="0.88" fill="#000096" stroke="#000" stroke-width="0.4"/>
<path d="M53.48 399.00 L60.94 399.00 L68.40 399.00 L75.86 398.99 L83.32 398.96 L90.78 398.79 L98.24 398.12 L105.70 396.01 L113.16 390.84 L120.62 381.20 L128.08 367.92 L135.54 355.58 L143.00 350.46 L150.46 355.58 L157.92 367.92 L165.38 381.20 L172.84 390.84 L180.30 396.01 L187.76 398.12 L195.22 398.79 L202.68 398.96 L210.14 398.99 L217.60 399.00 L225.06 399.00 L232.52 399.00" fill="none" stroke="#ff0000" stroke-width="1.3" stroke-linejoin="round"/>
<g font-size="10">
<text x="33.7" y="410.4" text-anchor="middle">1.5</text>
<text x="26.95" y="410.4" text-anchor="end">&#8722;</text>
<text x="70.18" y="410.4" text-anchor="middle">1</text>
<text x="67.6" y="410.4" text-anchor="end">&#8722;</text>
<text x="106.65" y="410.4" text-anchor="middle">0.5</text>
<text x="99.9" y="410.4" text-anchor="end">&#8722;</text>
<text x="143.12" y="410.4" text-anchor="middle">0</text>
<text x="179.6" y="410.4" text-anchor="middle">0.5</text>
<text x="216.07" y="410.4" text-anchor="middle">1</text>
<text x="252.55" y="410.4" text-anchor="middle">1.5</text>
<text x="29.4" y="402.7" text-anchor="end">0</text>
<text x="29.4" y="377.49" text-anchor="end">1000</text>
<text x="29.4" y="352.27" text-anchor="end">2000</text>
<text x="29.4" y="327.06" text-anchor="end">3000</text>
<text x="29.4" y="301.84" text-anchor="end">4000</text>
<text x="29.4" y="276.63" text-anchor="end">5000</text>
<text x="29.4" y="251.41" text-anchor="end">6000</text>
<text x="29.4" y="226.2" text-anchor="end">7000</text>
</g>
<path d="M341.8 219.5V398.7M373.1 219.5V398.7M404.4 219.5V398.7M435.7 219.5V398.7M467 219.5V398.7M498.3 219.5V398.7M529.6 219.5V398.7M321.5 368.83H549.5M321.5 338.97H549.5M321.5 309.1H549.5M321.5 279.23H549.5M321.5 249.37H549.5" stroke="#b4b4b4" stroke-width="0.9" stroke-dasharray="0.9 1.35" fill="none"/>
<path d="M341.8 398.7v-2.4M341.8 219.5v2.4M373.1 398.7v-2.4M373.1 219.5v2.4M404.4 398.7v-2.4M404.4 219.5v2.4M435.7 398.7v-2.4M435.7 219.5v2.4M467 398.7v-2.4M467 219.5v2.4M498.3 398.7v-2.4M498.3 219.5v2.4M529.6 398.7v-2.4M529.6 219.5v2.4M321.5 398.7h2.4M549.5 398.7h-2.4M321.5 368.83h2.4M549.5 368.83h-2.4M321.5 338.97h2.4M549.5 338.97h-2.4M321.5 309.1h2.4M549.5 309.1h-2.4M321.5 279.23h2.4M549.5 279.23h-2.4M321.5 249.37h2.4M549.5 249.37h-2.4M321.5 219.5h2.4M549.5 219.5h-2.4" stroke="#111" stroke-width="0.9" fill="none"/>
<rect x="321.5" y="219.5" width="228" height="179.2" fill="none" stroke="#111" stroke-width="1"/>
<rect x="341.2" y="394.82" width="6.4" height="3.88" fill="#000096" stroke="#000" stroke-width="0.4"/>
<rect x="348.8" y="393.62" width="6.4" height="5.08" fill="#000096" stroke="#000" stroke-width="0.4"/>
<rect x="356.4" y="391.98" width="6.4" height="6.72" fill="#000096" stroke="#000" stroke-width="0.4"/>
<rect x="364" y="387.05" width="6.4" height="11.65" fill="#000096" stroke="#000" stroke-width="0.4"/>
<rect x="371.6" y="373.61" width="6.4" height="25.09" fill="#000096" stroke="#000" stroke-width="0.4"/>
<rect x="379.2" y="364.65" width="6.4" height="34.05" fill="#000096" stroke="#000" stroke-width="0.4"/>
<rect x="386.8" y="351.06" width="6.4" height="47.64" fill="#000096" stroke="#000" stroke-width="0.4"/>
<rect x="394.4" y="335.83" width="6.4" height="62.87" fill="#000096" stroke="#000" stroke-width="0.4"/>
<rect x="402" y="314.92" width="6.4" height="83.78" fill="#000096" stroke="#000" stroke-width="0.4"/>
<rect x="409.6" y="291.03" width="6.4" height="107.67" fill="#000096" stroke="#000" stroke-width="0.4"/>
<rect x="417.2" y="262.81" width="6.4" height="135.89" fill="#000096" stroke="#000" stroke-width="0.4"/>
<rect x="424.8" y="249.52" width="6.4" height="149.18" fill="#000096" stroke="#000" stroke-width="0.4"/>
<rect x="432.4" y="245.33" width="6.4" height="153.37" fill="#000096" stroke="#000" stroke-width="0.4"/>
<rect x="440" y="249.22" width="6.4" height="149.48" fill="#000096" stroke="#000" stroke-width="0.4"/>
<rect x="447.6" y="263.25" width="6.4" height="135.45" fill="#000096" stroke="#000" stroke-width="0.4"/>
<rect x="455.2" y="285.95" width="6.4" height="112.75" fill="#000096" stroke="#000" stroke-width="0.4"/>
<rect x="462.8" y="321.2" width="6.4" height="77.5" fill="#000096" stroke="#000" stroke-width="0.4"/>
<rect x="470.4" y="336.58" width="6.4" height="62.12" fill="#000096" stroke="#000" stroke-width="0.4"/>
<rect x="478" y="349.87" width="6.4" height="48.83" fill="#000096" stroke="#000" stroke-width="0.4"/>
<rect x="485.6" y="364.5" width="6.4" height="34.2" fill="#000096" stroke="#000" stroke-width="0.4"/>
<rect x="493.2" y="374.66" width="6.4" height="24.04" fill="#000096" stroke="#000" stroke-width="0.4"/>
<rect x="500.8" y="385.56" width="6.4" height="13.14" fill="#000096" stroke="#000" stroke-width="0.4"/>
<rect x="508.4" y="393.32" width="6.4" height="5.38" fill="#000096" stroke="#000" stroke-width="0.4"/>
<rect x="516" y="393.77" width="6.4" height="4.93" fill="#000096" stroke="#000" stroke-width="0.4"/>
<rect x="523.6" y="395.27" width="6.4" height="3.43" fill="#000096" stroke="#000" stroke-width="0.4"/>
<path d="M344.40 396.96 L352.00 395.17 L359.60 391.95 L367.20 386.57 L374.80 378.21 L382.40 366.15 L390.00 350.09 L397.60 330.46 L405.20 308.63 L412.80 286.92 L420.40 268.28 L428.00 255.64 L435.60 251.16 L443.20 255.64 L450.80 268.28 L458.40 286.92 L466.00 308.63 L473.60 330.46 L481.20 350.09 L488.80 366.15 L496.40 378.21 L504.00 386.57 L511.60 391.95 L519.20 395.17 L526.80 396.96" fill="none" stroke="#ff0000" stroke-width="1.3" stroke-linejoin="round"/>
<g font-size="10">
<text x="341.8" y="410.1" text-anchor="middle">30</text>
<text x="336.44" y="410.1" text-anchor="end">&#8722;</text>
<text x="373.1" y="410.1" text-anchor="middle">20</text>
<text x="367.74" y="410.1" text-anchor="end">&#8722;</text>
<text x="404.4" y="410.1" text-anchor="middle">10</text>
<text x="399.04" y="410.1" text-anchor="end">&#8722;</text>
<text x="435.7" y="410.1" text-anchor="middle">0</text>
<text x="467" y="410.1" text-anchor="middle">10</text>
<text x="498.3" y="410.1" text-anchor="middle">20</text>
<text x="529.6" y="410.1" text-anchor="middle">30</text>
<text x="319.6" y="402.4" text-anchor="end">0</text>
<text x="319.6" y="372.53" text-anchor="end">200</text>
<text x="319.6" y="342.67" text-anchor="end">400</text>
<text x="319.6" y="312.8" text-anchor="end">600</text>
<text x="319.6" y="282.93" text-anchor="end">800</text>
<text x="319.6" y="253.07" text-anchor="end">1000</text>
<text x="319.6" y="223.2" text-anchor="end">1200</text>
</g>
<text x="146.5" y="206.6" text-anchor="middle" font-size="8.3">t (seconds)</text>
<text x="427" y="206.6" text-anchor="middle" font-size="8.3">t (seconds)</text>
<text transform="translate(6.7 95.3) rotate(-90)" text-anchor="middle" font-size="8.3">h(t)</text>
<text transform="translate(287.6 94.4) rotate(-90)" text-anchor="middle" font-size="8.3">h(t)</text>
<text x="143.1" y="420" text-anchor="middle" font-size="9.8">h</text>
<text x="435.5" y="420" text-anchor="middle" font-size="9.8">h</text>
</svg>
</body></html>
